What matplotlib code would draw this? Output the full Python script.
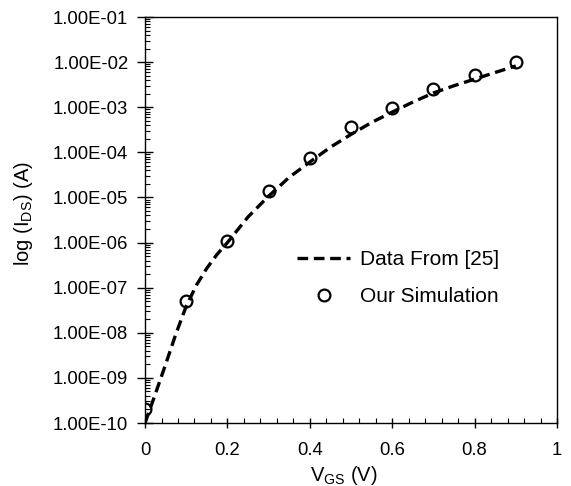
import numpy as np
import matplotlib
matplotlib.use("Agg")
import matplotlib.pyplot as plt
from matplotlib.ticker import FuncFormatter, LogLocator, MultipleLocator

plt.rcParams['font.family'] = ['Liberation Sans', 'DejaVu Sans']
plt.rcParams['mathtext.fontset'] = 'custom'
plt.rcParams['mathtext.rm'] = 'Liberation Sans'

# Reference data (dashed line)
ref_vgs = [0.0, 0.025, 0.05, 0.075, 0.1, 0.125, 0.15, 0.175, 0.2, 0.25, 0.3, 0.35,
           0.4, 0.45, 0.5, 0.55, 0.6, 0.65, 0.7, 0.75, 0.8, 0.85, 0.9]
ref_ids = [1.0e-10, 4.4e-10, 2.0e-9, 9.5e-9, 3.9e-8, 1.15e-7, 2.7e-7, 5.5e-7, 1.0e-6,
           3.7e-6, 1.07e-5, 2.8e-5, 6.1e-5, 1.3e-4, 2.5e-4, 4.6e-4, 7.8e-4, 1.3e-3,
           2.07e-3, 3.0e-3, 4.2e-3, 5.9e-3, 8.2e-3]

# Our simulation (circles)
sim_vgs = [0.0, 0.1, 0.2, 0.3, 0.4, 0.5, 0.6, 0.7, 0.8, 0.9]
sim_ids = [2.0e-10, 5.0e-8, 1.08e-6, 1.39e-5, 7.6e-5, 3.6e-4, 9.8e-4, 2.5e-3, 5.2e-3, 1.02e-2]

fs = 13.3
fig = plt.figure(figsize=(5.71, 4.86), dpi=100)
ax = fig.add_axes([0.254, 0.1296, 0.7215, 0.8354])

ax.plot(ref_vgs, ref_ids, color='black', lw=2.4, dashes=(3.2, 1.7),
        label='Data From [25]')
ax.plot(sim_vgs, sim_ids, linestyle='none', marker='o', markersize=8.5,
        markerfacecolor='none', markeredgecolor='black', markeredgewidth=1.6,
        label='Our Simulation')

ax.set_yscale('log')
ax.set_xlim(0, 1)
ax.set_ylim(1e-10, 1e-1)

ax.xaxis.set_major_locator(MultipleLocator(0.2))
ax.xaxis.set_minor_locator(MultipleLocator(0.04))
ax.xaxis.set_major_formatter(FuncFormatter(lambda v, p: '0' if abs(v) < 1e-9 else ('1' if abs(v - 1) < 1e-9 else f'{v:.1f}')))
ax.yaxis.set_major_locator(LogLocator(base=10, numticks=20))
ax.yaxis.set_minor_locator(LogLocator(base=10, subs=np.arange(2, 10), numticks=20))

def yfmt(v, p):
    e = int(round(np.log10(v)))
    return f'1.00E{"-" if e < 0 else "+"}{abs(e):02d}'
ax.yaxis.set_major_formatter(FuncFormatter(yfmt))

ax.tick_params(which='both', top=False, right=False, labelsize=fs)
ax.tick_params(axis='y', which='major', direction='inout', length=11, width=1, pad=6.5)
ax.tick_params(axis='x', which='major', direction='inout', length=7, width=1, pad=10)
ax.tick_params(which='minor', direction='in', length=3.6, width=0.8)
for s in ax.spines.values():
    s.set_linewidth(1.0)
    s.set_color('black')

ax.set_xlabel(r'V$_{\mathregular{GS}}$ (V)', fontsize=14.5)
ax.set_ylabel(r'log (I$_{\mathregular{DS}}$) (A)', fontsize=14.5)
ax.xaxis.set_label_coords(0.483, -0.1)
ax.yaxis.set_label_coords(-0.267, 0.515)

leg = ax.legend(loc='center left', bbox_to_anchor=(0.369, 0.357), frameon=False,
                fontsize=15, handlelength=2.55, handletextpad=0.48, labelspacing=0.85,
                borderpad=0, borderaxespad=0)

fig.savefig('out.png', dpi=100)
